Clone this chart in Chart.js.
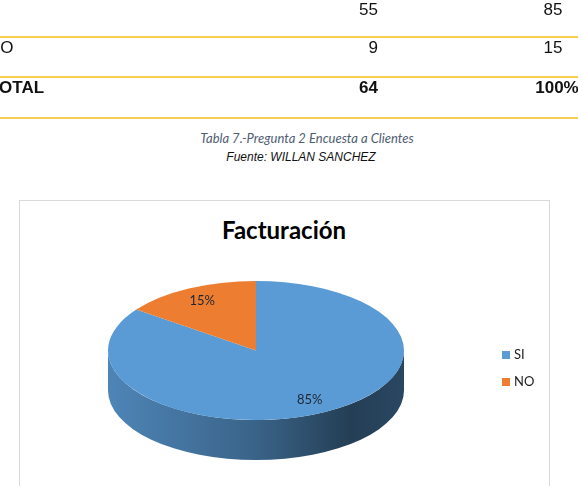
<!DOCTYPE html>
<html>
<head>
<meta charset="utf-8">
<script src="https://cdn.jsdelivr.net/npm/chart.js@4.4.1/dist/chart.umd.min.js"></script>
<style>
  html, body { margin: 0; padding: 0; background: #fff; }
  body { width: 578px; height: 486px; overflow: hidden; position: relative; }
  .cell { position: absolute; font-family: "Liberation Sans", Arial, sans-serif; font-size: 17px; line-height: 20px; color: #111; white-space: nowrap; }
  .bold { font-weight: bold; }
  .rule { position: absolute; left: 0; width: 578px; height: 2px; background: #f5cf4f; }
  #caption { position: absolute; left: 0; width: 614px; top: 131px; text-align: center; font-family: Lato, sans-serif; font-style: italic; font-size: 13px; line-height: 15px; color: #4f5d73; }
  #source { position: absolute; left: 0; width: 602px; top: 150px; text-align: center; font-family: "Liberation Sans", Arial, sans-serif; font-style: italic; font-size: 12px; line-height: 14px; color: #111; }
  #box { position: absolute; left: 19px; top: 200px; width: 529px; height: 320px; border: 1px solid #d9d9d9; }
  #title { position: absolute; left: 0; width: 568px; top: 217px; text-align: center; font-family: Lato, sans-serif; font-weight: bold; font-size: 24px; line-height: 26px; color: #000; }
  #chart { position: absolute; left: 0; top: 0; }
  .leg { position: absolute; left: 502px; font-family: Lato, sans-serif; font-size: 13px; line-height: 14px; color: #222; }
  .leg span { display: inline-block; width: 8px; height: 8px; margin-right: 4px; vertical-align: 0px; }
</style>
</head>
<body>
<div id="box"></div>
<div id="caption">Tabla 7.-Pregunta 2 Encuesta a Clientes</div>
<div id="source">Fuente: WILLAN SANCHEZ</div>
<div id="title">Facturación</div>
<canvas id="chart" width="578" height="486"></canvas>
<script>
// table / chart data
const categories = ["SI", "NO"];
const counts = [55, 9];
const percents = [85, 15];
const total = 64;
const totalPct = "100%";
const colors = ["#5b9bd5", "#ed7d31"];

// table fragment at the top (left labels are cut off by the page edge)
const rowTops = [0, 38, 78];
const rules = [36, 76, 117];
rules.forEach((y) => {
  const r = document.createElement("div");
  r.className = "rule";
  r.style.top = y + "px";
  document.body.appendChild(r);
});

function cell(text, top, opts) {
  const d = document.createElement("div");
  d.className = "cell" + (opts.bold ? " bold" : "");
  d.textContent = text;
  d.style.top = top + "px";
  if (opts.right !== undefined) {
    d.style.right = 578 - opts.right + "px";
  } else if (opts.center !== undefined) {
    d.style.left = opts.center - 60 + "px";
    d.style.width = "120px";
    d.style.textAlign = "center";
  } else {
    d.style.left = opts.left + "px";
  }
  document.body.appendChild(d);
}

counts.forEach((c, i) => {
  if (i > 0) cell(categories[i], rowTops[i], { left: -12 });
  cell(String(c), rowTops[i], { right: 378 });
  cell(String(percents[i]), rowTops[i], { center: 553 });
});
cell("TOTAL", rowTops[2], { left: -11, bold: true });
cell(String(total), rowTops[2], { right: 378, bold: true });
cell(totalPct, rowTops[2], { center: 557, bold: true });

// legend
const legTops = [347, 374];
categories.forEach((c, i) => {
  const d = document.createElement("div");
  d.className = "leg";
  d.style.top = legTops[i] + "px";
  d.innerHTML = '<span style="background:' + colors[i] + '"></span>' + c;
  document.body.appendChild(d);
});

// 3d look: squash the pie and draw the front wall under it
const tilt = 0.47;
const depth = 40;

function shade(hex, f) {
  const n = parseInt(hex.slice(1), 16);
  const r = Math.round(((n >> 16) & 255) * f);
  const g = Math.round(((n >> 8) & 255) * f);
  const b = Math.round((n & 255) * f);
  return "rgb(" + r + "," + g + "," + b + ")";
}

const pie3d = {
  id: "pie3d",
  beforeDatasetDraw(chart, args) {
    const ctx = chart.ctx;
    const arcs = chart.getDatasetMeta(args.index).data;
    const cx = arcs[0].x;
    const cy = arcs[0].y;
    arcs.forEach((arc) => {
      const { startAngle, endAngle, outerRadius } = arc;
      const ry = outerRadius * tilt;
      const base = arc.options.backgroundColor;
      const grad = ctx.createLinearGradient(cx - outerRadius, 0, cx + outerRadius, 0);
      grad.addColorStop(0, shade(base, 0.86));
      grad.addColorStop(0.5, shade(base, 0.64));
      grad.addColorStop(0.82, shade(base, 0.4));
      grad.addColorStop(1, shade(base, 0.46));
      [-2 * Math.PI, 0, 2 * Math.PI].forEach((k) => {
        const s = Math.max(startAngle + k, 0);
        const e = Math.min(endAngle + k, Math.PI);
        if (e <= s) return;
        ctx.beginPath();
        ctx.ellipse(cx, cy, outerRadius, ry, 0, s, e);
        ctx.ellipse(cx, cy + depth, outerRadius, ry, 0, e, s, true);
        ctx.closePath();
        ctx.fillStyle = grad;
        ctx.fill();
      });
    });
    ctx.save();
    ctx.translate(cx, cy);
    ctx.scale(1, tilt);
    ctx.translate(-cx, -cy);
  },
  afterDatasetDraw(chart, args) {
    const ctx = chart.ctx;
    ctx.restore();
    const arcs = chart.getDatasetMeta(args.index).data;
    const values = chart.data.datasets[args.index].data;
    ctx.save();
    ctx.font = "13px Lato";
    ctx.fillStyle = "#1e2733";
    ctx.textAlign = "center";
    ctx.textBaseline = "middle";
    arcs.forEach((arc, i) => {
      const mid = (arc.startAngle + arc.endAngle) / 2;
      const r = arc.outerRadius * 0.8;
      const x = arc.x + r * Math.cos(mid);
      const y = arc.y + r * Math.sin(mid) * tilt;
      ctx.fillText(values[i] + "%", x, y);
    });
    ctx.restore();
  },
};

new Chart(document.getElementById("chart").getContext("2d"), {
  type: "pie",
  data: {
    labels: categories,
    datasets: [
      {
        data: percents,
        backgroundColor: colors,
        borderWidth: 0,
        radius: 148,
        clip: false,
      },
    ],
  },
  options: {
    responsive: false,
    animation: false,
    events: [],
    layout: { padding: { left: 108, right: 174, top: 221, bottom: 6 } },
    plugins: {
      legend: { display: false },
      tooltip: { enabled: false },
    },
  },
  plugins: [pie3d],
});
</script>
</body>
</html>
